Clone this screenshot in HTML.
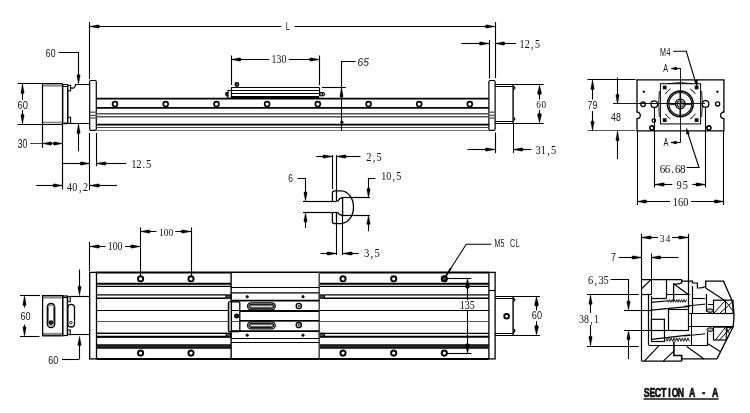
<!DOCTYPE html>
<html><head><meta charset="utf-8"><title>drawing</title>
<style>html,body{margin:0;padding:0;background:#fff;}svg{display:block;} text{} .t{opacity:0.999}</style></head>
<body><svg width="750" height="413" viewBox="0 0 750 413">
<rect x="0" y="0" width="750" height="413" fill="#fff"/>
<g stroke-linecap="butt" style="will-change:transform">
<line x1="89.50" y1="22.00" x2="89.50" y2="79.00" stroke="#000" stroke-width="1.1"/>
<line x1="495.50" y1="22.00" x2="495.50" y2="78.00" stroke="#000" stroke-width="1.1"/>
<line x1="89.70" y1="26.50" x2="281.30" y2="26.50" stroke="#000" stroke-width="1.0"/>
<line x1="294.50" y1="26.50" x2="495.20" y2="26.50" stroke="#000" stroke-width="1.0"/>
<path d="M89.70,26.50 L98.05,24.85 A1.65,1.65 0 0 1 98.05,28.15 Z" fill="#000" stroke="#000" stroke-width="0.3"/>
<path d="M495.20,26.50 L486.85,28.15 A1.65,1.65 0 0 1 486.85,24.85 Z" fill="#000" stroke="#000" stroke-width="0.3"/>
<text transform="translate(285.80,29.89) scale(0.7131,1)" font-family="&quot;Liberation Sans&quot;, sans-serif" font-weight="normal" font-size="10.59" fill="#111">L</text>
<text transform="translate(45.80,57.39) scale(0.7720,1)" font-family="&quot;Liberation Sans&quot;, sans-serif" font-weight="normal" font-size="11.30" fill="#111">60</text>
<path d="M58.50,52.50 L78.50,52.50 L78.50,80.50" stroke="#000" stroke-width="1.1" fill="none" stroke-linejoin="miter"/>
<path d="M78.50,84.20 L76.85,75.85 A1.65,1.65 0 0 1 80.15,75.85 Z" fill="#000" stroke="#000" stroke-width="0.3"/>
<rect x="42.60" y="84.20" width="20.00" height="2.40" fill="#8a8a8a"/>
<rect x="42.60" y="121.60" width="20.00" height="1.80" fill="#8a8a8a"/>
<line x1="17.50" y1="83.50" x2="62.60" y2="83.50" stroke="#000" stroke-width="1.2"/>
<line x1="17.50" y1="124.50" x2="62.60" y2="124.50" stroke="#000" stroke-width="1.2"/>
<line x1="42.50" y1="83.70" x2="42.50" y2="148.00" stroke="#000" stroke-width="1.2"/>
<line x1="62.50" y1="83.70" x2="62.50" y2="189.50" stroke="#000" stroke-width="1.2"/>
<rect x="62.70" y="84.50" width="5.00" height="39.10" rx="0.8" stroke="#000" stroke-width="1.2" fill="none"/>
<line x1="62.70" y1="86.50" x2="67.70" y2="86.50" stroke="#000" stroke-width="1.0"/>
<line x1="62.70" y1="122.50" x2="67.70" y2="122.50" stroke="#888" stroke-width="1.0"/>
<rect x="67.70" y="85.30" width="2.90" height="5.50" rx="0" stroke="#000" stroke-width="1.1" fill="none"/>
<rect x="67.70" y="117.30" width="2.90" height="6.10" rx="0" stroke="#000" stroke-width="1.1" fill="none"/>
<path d="M67.7,90.8 L67.7,117.3 M70.6,88.2 L73.2,88.2 Q75.0,88.0 75.6,84.5 L89.7,84.5 M70.6,123.5 L89.7,123.5" stroke="#000" stroke-width="1.2" fill="none"/>
<line x1="22.50" y1="84.50" x2="22.50" y2="123.20" stroke="#000" stroke-width="1.1"/>
<path d="M22.50,83.90 L24.15,92.25 A1.65,1.65 0 0 1 20.85,92.25 Z" fill="#000" stroke="#000" stroke-width="0.3"/>
<path d="M22.50,123.90 L20.85,115.55 A1.65,1.65 0 0 1 24.15,115.55 Z" fill="#000" stroke="#000" stroke-width="0.3"/>
<rect x="18.00" y="100.00" width="9.50" height="10.00" fill="#fff"/>
<text transform="translate(17.60,108.89) scale(0.8277,1)" font-family="&quot;Liberation Sans&quot;, sans-serif" font-weight="normal" font-size="11.30" fill="#111">60</text>
<rect x="89.70" y="80.50" width="6.60" height="49.90" rx="1.2" stroke="#000" stroke-width="1.2" fill="none"/>
<line x1="89.70" y1="112.20" x2="96.30" y2="112.20" stroke="#555" stroke-width="1.3"/>
<line x1="89.70" y1="115.40" x2="96.30" y2="115.40" stroke="#555" stroke-width="1.3"/>
<line x1="89.70" y1="118.00" x2="96.30" y2="118.00" stroke="#555" stroke-width="1.3"/>
<rect x="488.90" y="80.50" width="6.20" height="49.90" rx="1.2" stroke="#000" stroke-width="1.2" fill="none"/>
<line x1="488.90" y1="112.20" x2="495.10" y2="112.20" stroke="#555" stroke-width="1.3"/>
<line x1="488.90" y1="115.40" x2="495.10" y2="115.40" stroke="#555" stroke-width="1.3"/>
<line x1="488.90" y1="118.00" x2="495.10" y2="118.00" stroke="#555" stroke-width="1.3"/>
<line x1="96.30" y1="98.70" x2="488.90" y2="98.70" stroke="#000" stroke-width="1.7"/>
<line x1="96.30" y1="107.90" x2="488.90" y2="107.90" stroke="#000" stroke-width="1.9"/>
<line x1="96.30" y1="113.70" x2="488.90" y2="113.70" stroke="#555" stroke-width="1.5"/>
<line x1="96.30" y1="116.85" x2="488.90" y2="116.85" stroke="#555" stroke-width="1.5"/>
<line x1="96.30" y1="124.60" x2="488.90" y2="124.60" stroke="#000" stroke-width="1.8"/>
<line x1="96.30" y1="127.50" x2="488.90" y2="127.50" stroke="#444" stroke-width="1.2"/>
<line x1="96.30" y1="130.50" x2="488.90" y2="130.50" stroke="#777" stroke-width="1.2"/>
<circle cx="115.00" cy="104.10" r="2.50" stroke="#000" stroke-width="1.6" fill="none"/>
<circle cx="165.70" cy="104.10" r="2.50" stroke="#000" stroke-width="1.6" fill="none"/>
<circle cx="216.50" cy="104.10" r="2.50" stroke="#000" stroke-width="1.6" fill="none"/>
<circle cx="267.10" cy="104.10" r="2.50" stroke="#000" stroke-width="1.6" fill="none"/>
<circle cx="317.80" cy="104.10" r="2.50" stroke="#000" stroke-width="1.6" fill="none"/>
<circle cx="368.60" cy="104.10" r="2.50" stroke="#000" stroke-width="1.6" fill="none"/>
<circle cx="419.20" cy="104.10" r="2.50" stroke="#000" stroke-width="1.6" fill="none"/>
<circle cx="469.80" cy="104.10" r="2.50" stroke="#000" stroke-width="1.6" fill="none"/>
<rect x="231.00" y="96.00" width="88.20" height="2.40" fill="#000"/>
<line x1="231.00" y1="87.50" x2="319.20" y2="87.50" stroke="#000" stroke-width="1.2"/>
<line x1="227.90" y1="90.50" x2="319.20" y2="90.50" stroke="#000" stroke-width="1.2"/>
<line x1="231.00" y1="93.50" x2="319.20" y2="93.50" stroke="#000" stroke-width="1.1"/>
<line x1="231.50" y1="87.45" x2="231.50" y2="96.00" stroke="#000" stroke-width="1.2"/>
<line x1="319.50" y1="87.45" x2="319.50" y2="96.00" stroke="#000" stroke-width="1.2"/>
<rect x="227.90" y="90.40" width="3.50" height="7.80" rx="0" stroke="#000" stroke-width="1.0" fill="none"/>
<path d="M227.9,92.5 L226.2,92.5 Q224.8,94.3 226.2,96.0 L227.9,96.0 Z" stroke="#000" stroke-width="1.1" fill="#555"/>
<path d="M319.8,92.6 L324.0,92.6 Q326.0,94.2 324.0,95.8 L319.8,95.8 Z" stroke="#000" stroke-width="1.0" fill="#999"/>
<line x1="322.50" y1="92.60" x2="322.50" y2="95.80" stroke="#000" stroke-width="0.8"/>
<circle cx="236.90" cy="84.50" r="1.80" stroke="#000" stroke-width="1.3" fill="#555"/>
<line x1="231.50" y1="55.50" x2="231.50" y2="85.00" stroke="#000" stroke-width="1.1"/>
<line x1="319.50" y1="55.50" x2="319.50" y2="85.00" stroke="#000" stroke-width="1.1"/>
<line x1="231.30" y1="59.50" x2="269.30" y2="59.50" stroke="#000" stroke-width="1.0"/>
<line x1="288.80" y1="59.50" x2="319.40" y2="59.50" stroke="#000" stroke-width="1.0"/>
<path d="M231.30,59.50 L239.65,57.85 A1.65,1.65 0 0 1 239.65,61.15 Z" fill="#000" stroke="#000" stroke-width="0.3"/>
<path d="M319.40,59.50 L311.05,61.15 A1.65,1.65 0 0 1 311.05,57.85 Z" fill="#000" stroke="#000" stroke-width="0.3"/>
<text transform="translate(271.60,62.98) scale(0.8373,1)" font-family="&quot;Liberation Serif&quot;, serif" font-weight="normal" font-size="11.70" fill="#111">130</text>
<line x1="322.00" y1="87.50" x2="345.80" y2="87.50" stroke="#000" stroke-width="1.1"/>
<path d="M355.50,61.50 L341.50,61.50 L341.50,130.50" stroke="#000" stroke-width="1.1" fill="none" stroke-linejoin="miter"/>
<circle cx="341.90" cy="122.20" r="1.30" stroke="#000" stroke-width="0.6" fill="#000"/>
<path d="M341.50,87.60 L343.15,95.95 A1.65,1.65 0 0 1 339.85,95.95 Z" fill="#000" stroke="#000" stroke-width="0.3"/>
<text transform="translate(357.50,66.18) scale(0.8798,1)" font-family="&quot;Liberation Sans&quot;, sans-serif" font-weight="normal" font-size="11.72" fill="#111" font-style="italic">65</text>
<line x1="489.50" y1="40.00" x2="489.50" y2="78.50" stroke="#000" stroke-width="1.1"/>
<line x1="461.30" y1="43.50" x2="489.00" y2="43.50" stroke="#000" stroke-width="1.1"/>
<path d="M489.00,43.50 L480.65,45.15 A1.65,1.65 0 0 1 480.65,41.85 Z" fill="#000" stroke="#000" stroke-width="0.3"/>
<line x1="495.20" y1="43.50" x2="516.00" y2="43.50" stroke="#000" stroke-width="1.1"/>
<path d="M495.20,43.50 L503.55,41.85 A1.65,1.65 0 0 1 503.55,45.15 Z" fill="#000" stroke="#000" stroke-width="0.3"/>
<g font-family="&quot;Liberation Serif&quot;, serif" font-weight="normal" font-size="11.85" fill="#111"><text transform="translate(519.50,47.88) scale(0.850,1)">1</text><text transform="translate(524.65,47.88) scale(0.850,1)">2</text><text transform="translate(531.07,47.88) scale(0.850,1)">,</text><text transform="translate(534.96,47.88) scale(0.850,1)">5</text></g>
<line x1="495.10" y1="84.50" x2="543.70" y2="84.50" stroke="#000" stroke-width="1.1"/>
<line x1="495.10" y1="86.50" x2="512.80" y2="86.50" stroke="#000" stroke-width="1.0"/>
<line x1="495.10" y1="121.50" x2="512.80" y2="121.50" stroke="#000" stroke-width="1.0"/>
<line x1="495.10" y1="123.50" x2="543.70" y2="123.50" stroke="#000" stroke-width="1.1"/>
<line x1="513.10" y1="84.50" x2="513.10" y2="123.20" stroke="#000" stroke-width="1.4"/>
<path d="M513.6,86.6 Q516.2,88.0 513.6,89.6" stroke="#000" stroke-width="1.2" fill="none"/>
<path d="M513.6,117.5 Q516.2,119.0 513.6,120.6" stroke="#000" stroke-width="1.2" fill="none"/>
<line x1="539.50" y1="86.00" x2="539.50" y2="122.00" stroke="#000" stroke-width="1.0"/>
<path d="M539.50,85.00 L541.50,93.00 A2.00,2.00 0 0 1 537.50,93.00 Z" fill="#000" stroke="#000" stroke-width="0.3"/>
<path d="M539.50,123.00 L537.50,115.00 A2.00,2.00 0 0 1 541.50,115.00 Z" fill="#000" stroke="#000" stroke-width="0.3"/>
<rect x="535.50" y="99.50" width="11.00" height="10.50" fill="#fff"/>
<g font-family="&quot;Liberation Serif&quot;, serif" font-weight="normal" font-size="10.81" fill="#111"><text transform="translate(536.20,108.19) scale(0.850,1)">6</text><text transform="translate(541.40,108.19) scale(0.850,1)">0</text></g>
<text transform="translate(17.70,148.38) scale(0.7352,1)" font-family="&quot;Liberation Sans&quot;, sans-serif" font-weight="normal" font-size="11.86" fill="#111">30</text>
<line x1="30.10" y1="143.50" x2="62.60" y2="143.50" stroke="#444" stroke-width="1.1"/>
<path d="M42.60,143.50 L50.45,141.85 A1.65,1.65 0 0 1 50.45,145.15 Z" fill="#000" stroke="#000" stroke-width="0.3"/>
<path d="M62.60,143.50 L54.75,145.15 A1.65,1.65 0 0 1 54.75,141.85 Z" fill="#000" stroke="#000" stroke-width="0.3"/>
<line x1="78.50" y1="124.50" x2="78.50" y2="151.30" stroke="#000" stroke-width="1.1"/>
<path d="M78.50,124.00 L80.15,132.35 A1.65,1.65 0 0 1 76.85,132.35 Z" fill="#000" stroke="#000" stroke-width="0.3"/>
<line x1="89.50" y1="133.00" x2="89.50" y2="190.00" stroke="#000" stroke-width="1.1"/>
<line x1="96.50" y1="133.00" x2="96.50" y2="166.30" stroke="#000" stroke-width="1.1"/>
<line x1="62.70" y1="163.50" x2="89.80" y2="163.50" stroke="#000" stroke-width="1.1"/>
<path d="M89.80,163.50 L81.45,165.15 A1.65,1.65 0 0 1 81.45,161.85 Z" fill="#000" stroke="#000" stroke-width="0.3"/>
<line x1="96.30" y1="163.50" x2="126.30" y2="163.50" stroke="#000" stroke-width="1.1"/>
<path d="M96.30,163.50 L104.65,161.85 A1.65,1.65 0 0 1 104.65,165.15 Z" fill="#000" stroke="#000" stroke-width="0.3"/>
<g font-family="&quot;Liberation Serif&quot;, serif" font-weight="normal" font-size="12.59" fill="#111"><text transform="translate(131.30,167.87) scale(0.850,1)">1</text><text transform="translate(136.18,167.87) scale(0.850,1)">2</text><text transform="translate(142.40,167.87) scale(0.850,1)">.</text><text transform="translate(145.95,167.87) scale(0.850,1)">5</text></g>
<line x1="36.30" y1="185.50" x2="62.70" y2="185.50" stroke="#000" stroke-width="1.1"/>
<path d="M62.70,185.50 L54.35,187.15 A1.65,1.65 0 0 1 54.35,183.85 Z" fill="#000" stroke="#000" stroke-width="0.3"/>
<line x1="89.80" y1="185.50" x2="117.00" y2="185.50" stroke="#000" stroke-width="1.1"/>
<path d="M89.80,185.50 L98.15,183.85 A1.65,1.65 0 0 1 98.15,187.15 Z" fill="#000" stroke="#000" stroke-width="0.3"/>
<g font-family="&quot;Liberation Serif&quot;, serif" font-weight="normal" font-size="11.85" fill="#111"><text transform="translate(67.00,191.18) scale(0.850,1)">4</text><text transform="translate(72.32,191.18) scale(0.850,1)">0</text><text transform="translate(78.90,191.18) scale(0.850,1)">,</text><text transform="translate(82.96,191.18) scale(0.850,1)">2</text></g>
<line x1="495.50" y1="132.50" x2="495.50" y2="153.00" stroke="#000" stroke-width="1.1"/>
<line x1="513.50" y1="123.00" x2="513.50" y2="153.00" stroke="#000" stroke-width="1.0"/>
<line x1="467.50" y1="149.50" x2="495.00" y2="149.50" stroke="#000" stroke-width="1.1"/>
<path d="M495.00,149.50 L486.65,151.15 A1.65,1.65 0 0 1 486.65,147.85 Z" fill="#000" stroke="#000" stroke-width="0.3"/>
<line x1="513.20" y1="149.50" x2="531.30" y2="149.50" stroke="#000" stroke-width="1.1"/>
<path d="M513.20,149.50 L521.55,147.85 A1.65,1.65 0 0 1 521.55,151.15 Z" fill="#000" stroke="#000" stroke-width="0.3"/>
<g font-family="&quot;Liberation Serif&quot;, serif" font-weight="normal" font-size="12.30" fill="#111"><text transform="translate(535.50,153.68) scale(0.850,1)">3</text><text transform="translate(540.69,153.68) scale(0.850,1)">1</text><text transform="translate(547.19,153.68) scale(0.850,1)">,</text><text transform="translate(551.07,153.68) scale(0.850,1)">5</text></g>
<line x1="332.50" y1="155.00" x2="332.50" y2="189.00" stroke="#000" stroke-width="1.1"/>
<line x1="336.50" y1="155.00" x2="336.50" y2="190.50" stroke="#000" stroke-width="1.1"/>
<line x1="316.30" y1="156.50" x2="332.50" y2="156.50" stroke="#000" stroke-width="1.1"/>
<path d="M332.50,156.50 L324.15,158.15 A1.65,1.65 0 0 1 324.15,154.85 Z" fill="#000" stroke="#000" stroke-width="0.3"/>
<line x1="336.40" y1="156.50" x2="360.50" y2="156.50" stroke="#000" stroke-width="1.1"/>
<path d="M336.40,156.50 L344.75,154.85 A1.65,1.65 0 0 1 344.75,158.15 Z" fill="#000" stroke="#000" stroke-width="0.3"/>
<g font-family="&quot;Liberation Serif&quot;, serif" font-weight="normal" font-size="12.30" fill="#111"><text transform="translate(366.30,161.18) scale(0.850,1)">2</text><text transform="translate(372.74,161.18) scale(0.850,1)">,</text><text transform="translate(376.57,161.18) scale(0.850,1)">5</text></g>
<text transform="translate(288.30,181.89) scale(0.7773,1)" font-family="&quot;Liberation Sans&quot;, sans-serif" font-weight="normal" font-size="10.88" fill="#111">6</text>
<path d="M297.50,178.50 L305.50,178.50 L305.50,195.50" stroke="#000" stroke-width="1.1" fill="none" stroke-linejoin="miter"/>
<path d="M305.50,201.40 L303.85,193.05 A1.65,1.65 0 0 1 307.15,193.05 Z" fill="#000" stroke="#000" stroke-width="0.3"/>
<line x1="305.50" y1="218.00" x2="305.50" y2="228.00" stroke="#000" stroke-width="1.1"/>
<path d="M305.50,212.50 L307.15,220.85 A1.65,1.65 0 0 1 303.85,220.85 Z" fill="#000" stroke="#000" stroke-width="0.3"/>
<line x1="303.00" y1="201.50" x2="332.40" y2="201.50" stroke="#000" stroke-width="1.2"/>
<line x1="303.00" y1="212.50" x2="332.40" y2="212.50" stroke="#000" stroke-width="1.2"/>
<g font-family="&quot;Liberation Serif&quot;, serif" font-weight="normal" font-size="11.85" fill="#111"><text transform="translate(381.30,180.38) scale(0.850,1)">1</text><text transform="translate(386.29,180.38) scale(0.850,1)">0</text><text transform="translate(392.53,180.38) scale(0.850,1)">,</text><text transform="translate(396.26,180.38) scale(0.850,1)">5</text></g>
<path d="M375.50,178.50 L368.50,178.50 L368.50,192.50" stroke="#000" stroke-width="1.1" fill="none" stroke-linejoin="miter"/>
<path d="M368.50,198.00 L366.85,189.65 A1.65,1.65 0 0 1 370.15,189.65 Z" fill="#000" stroke="#000" stroke-width="0.3"/>
<line x1="368.50" y1="221.00" x2="368.50" y2="231.30" stroke="#000" stroke-width="1.1"/>
<path d="M368.50,215.00 L370.15,223.35 A1.65,1.65 0 0 1 366.85,223.35 Z" fill="#000" stroke="#000" stroke-width="0.3"/>
<line x1="341.00" y1="197.50" x2="370.00" y2="197.50" stroke="#000" stroke-width="1.2"/>
<line x1="341.00" y1="215.50" x2="370.00" y2="215.50" stroke="#000" stroke-width="1.2"/>
<path d="M332.4,201.6 L332.4,193.0 Q332.4,190.8 334.6,190.8 L341.0,190.8 C348.0,191.0 353.5,198.0 353.5,207.2 C353.5,216.0 348.0,223.6 341.0,223.6 L334.5,223.6 Q332.4,223.6 332.4,221.5 L332.4,212.4" stroke="#000" stroke-width="1.3" fill="none"/>
<path d="M336.5,190.8 L336.5,200.0 Q336.5,201.6 338.0,201.0 Q340.0,197.4 342.6,198.0 L342.6,215.0 Q340.0,215.8 338.0,212.8 Q336.5,212.0 336.5,213.5 L336.5,223.6" stroke="#000" stroke-width="1.3" fill="none"/>
<line x1="336.50" y1="223.60" x2="336.50" y2="255.00" stroke="#000" stroke-width="1.1"/>
<line x1="342.50" y1="215.50" x2="342.50" y2="255.00" stroke="#000" stroke-width="1.1"/>
<line x1="332.40" y1="201.50" x2="336.50" y2="201.50" stroke="#000" stroke-width="1.2"/>
<line x1="332.40" y1="212.50" x2="336.50" y2="212.50" stroke="#000" stroke-width="1.2"/>
<line x1="320.50" y1="253.50" x2="336.50" y2="253.50" stroke="#000" stroke-width="1.1"/>
<path d="M336.50,253.50 L328.15,255.15 A1.65,1.65 0 0 1 328.15,251.85 Z" fill="#000" stroke="#000" stroke-width="0.3"/>
<line x1="342.60" y1="253.50" x2="358.80" y2="253.50" stroke="#000" stroke-width="1.1"/>
<path d="M342.60,253.50 L350.95,251.85 A1.65,1.65 0 0 1 350.95,255.15 Z" fill="#000" stroke="#000" stroke-width="0.3"/>
<g font-family="&quot;Liberation Serif&quot;, serif" font-weight="normal" font-size="12.59" fill="#111"><text transform="translate(364.00,257.37) scale(0.850,1)">3</text><text transform="translate(370.56,257.37) scale(0.850,1)">,</text><text transform="translate(374.45,257.37) scale(0.850,1)">5</text></g>
<line x1="89.50" y1="242.00" x2="89.50" y2="271.00" stroke="#000" stroke-width="1.1"/>
<line x1="89.70" y1="246.50" x2="105.50" y2="246.50" stroke="#000" stroke-width="1.0"/>
<path d="M89.70,246.50 L98.05,244.85 A1.65,1.65 0 0 1 98.05,248.15 Z" fill="#000" stroke="#000" stroke-width="0.3"/>
<line x1="125.00" y1="246.50" x2="140.40" y2="246.50" stroke="#000" stroke-width="1.0"/>
<path d="M140.40,246.50 L132.05,248.15 A1.65,1.65 0 0 1 132.05,244.85 Z" fill="#000" stroke="#000" stroke-width="0.3"/>
<text transform="translate(107.80,249.68) scale(0.8481,1)" font-family="&quot;Liberation Serif&quot;, serif" font-weight="normal" font-size="11.56" fill="#111">100</text>
<line x1="140.50" y1="227.50" x2="140.50" y2="276.00" stroke="#000" stroke-width="1.1"/>
<line x1="191.50" y1="227.50" x2="191.50" y2="276.00" stroke="#000" stroke-width="1.1"/>
<line x1="140.40" y1="231.50" x2="156.50" y2="231.50" stroke="#000" stroke-width="1.0"/>
<path d="M140.40,231.50 L148.75,229.85 A1.65,1.65 0 0 1 148.75,233.15 Z" fill="#000" stroke="#000" stroke-width="0.3"/>
<line x1="175.30" y1="231.50" x2="191.00" y2="231.50" stroke="#000" stroke-width="1.0"/>
<path d="M191.00,231.50 L182.65,233.15 A1.65,1.65 0 0 1 182.65,229.85 Z" fill="#000" stroke="#000" stroke-width="0.3"/>
<text transform="translate(159.10,235.79) scale(0.8299,1)" font-family="&quot;Liberation Serif&quot;, serif" font-weight="normal" font-size="11.41" fill="#111">100</text>
<rect x="89.70" y="272.40" width="6.80" height="86.50" rx="0" stroke="#000" stroke-width="1.3" fill="none"/>
<rect x="488.90" y="272.40" width="6.20" height="86.50" rx="0" stroke="#000" stroke-width="1.3" fill="none"/>
<line x1="488.90" y1="290.50" x2="495.10" y2="290.50" stroke="#000" stroke-width="1.2"/>
<line x1="96.50" y1="272.50" x2="231.10" y2="272.50" stroke="#000" stroke-width="2.0"/>
<line x1="96.50" y1="283.70" x2="231.10" y2="283.70" stroke="#000" stroke-width="2.0"/>
<line x1="96.50" y1="286.40" x2="231.10" y2="286.40" stroke="#000" stroke-width="1.4"/>
<line x1="96.50" y1="333.30" x2="231.10" y2="333.30" stroke="#000" stroke-width="1.3"/>
<line x1="96.50" y1="336.80" x2="231.10" y2="336.80" stroke="#000" stroke-width="2.0"/>
<line x1="96.50" y1="344.90" x2="231.10" y2="344.90" stroke="#000" stroke-width="1.4"/>
<line x1="96.50" y1="347.80" x2="231.10" y2="347.80" stroke="#000" stroke-width="2.0"/>
<rect x="96.50" y="345.00" width="134.60" height="2.80" fill="#222"/>
<line x1="96.50" y1="359.00" x2="231.10" y2="359.00" stroke="#000" stroke-width="2.0"/>
<line x1="319.20" y1="272.50" x2="488.90" y2="272.50" stroke="#000" stroke-width="2.0"/>
<line x1="319.20" y1="283.70" x2="488.90" y2="283.70" stroke="#000" stroke-width="2.0"/>
<line x1="319.20" y1="286.40" x2="488.90" y2="286.40" stroke="#000" stroke-width="1.4"/>
<line x1="319.20" y1="333.30" x2="488.90" y2="333.30" stroke="#000" stroke-width="1.3"/>
<line x1="319.20" y1="336.80" x2="488.90" y2="336.80" stroke="#000" stroke-width="2.0"/>
<line x1="319.20" y1="344.90" x2="488.90" y2="344.90" stroke="#000" stroke-width="1.4"/>
<line x1="319.20" y1="347.80" x2="488.90" y2="347.80" stroke="#000" stroke-width="2.0"/>
<rect x="319.20" y="345.00" width="169.70" height="2.80" fill="#222"/>
<line x1="319.20" y1="359.00" x2="488.90" y2="359.00" stroke="#000" stroke-width="2.0"/>
<line x1="96.50" y1="310.50" x2="488.90" y2="310.50" stroke="#000" stroke-width="1.1"/>
<line x1="96.50" y1="321.50" x2="488.90" y2="321.50" stroke="#555" stroke-width="1.1"/>
<line x1="96.50" y1="294.90" x2="226.00" y2="294.90" stroke="#000" stroke-width="1.4"/>
<line x1="96.50" y1="298.30" x2="226.00" y2="298.30" stroke="#000" stroke-width="1.4"/>
<line x1="325.00" y1="294.90" x2="488.90" y2="294.90" stroke="#000" stroke-width="1.4"/>
<line x1="325.00" y1="298.30" x2="488.90" y2="298.30" stroke="#000" stroke-width="1.4"/>
<line x1="96.50" y1="333.30" x2="226.00" y2="333.30" stroke="#000" stroke-width="1.3"/>
<line x1="96.50" y1="336.80" x2="226.00" y2="336.80" stroke="#000" stroke-width="1.3"/>
<rect x="226.00" y="294.90" width="5.10" height="3.40" rx="0" stroke="#000" stroke-width="1.0" fill="#444"/>
<rect x="319.20" y="294.90" width="5.30" height="3.40" rx="0" stroke="#000" stroke-width="1.0" fill="#444"/>
<rect x="226.00" y="333.30" width="5.10" height="3.50" rx="0" stroke="#000" stroke-width="1.0" fill="#444"/>
<rect x="319.20" y="333.30" width="5.30" height="3.50" rx="0" stroke="#000" stroke-width="1.0" fill="#444"/>
<circle cx="140.60" cy="278.80" r="2.60" stroke="#000" stroke-width="1.9" fill="none"/>
<circle cx="140.60" cy="353.10" r="2.60" stroke="#000" stroke-width="1.9" fill="none"/>
<circle cx="191.00" cy="278.80" r="2.60" stroke="#000" stroke-width="1.9" fill="none"/>
<circle cx="191.00" cy="353.10" r="2.60" stroke="#000" stroke-width="1.9" fill="none"/>
<circle cx="343.00" cy="278.80" r="2.60" stroke="#000" stroke-width="1.9" fill="none"/>
<circle cx="343.00" cy="353.10" r="2.60" stroke="#000" stroke-width="1.9" fill="none"/>
<circle cx="393.70" cy="278.80" r="2.60" stroke="#000" stroke-width="1.9" fill="none"/>
<circle cx="393.70" cy="353.10" r="2.60" stroke="#000" stroke-width="1.9" fill="none"/>
<circle cx="444.30" cy="278.80" r="2.60" stroke="#000" stroke-width="1.9" fill="none"/>
<circle cx="444.30" cy="353.10" r="2.60" stroke="#000" stroke-width="1.9" fill="none"/>
<line x1="231.10" y1="272.20" x2="319.20" y2="272.20" stroke="#000" stroke-width="1.4"/>
<line x1="231.10" y1="272.20" x2="231.10" y2="359.00" stroke="#000" stroke-width="1.4"/>
<line x1="319.20" y1="272.20" x2="319.20" y2="359.00" stroke="#444" stroke-width="1.5"/>
<line x1="231.10" y1="287.50" x2="319.20" y2="287.50" stroke="#000" stroke-width="1.1"/>
<line x1="231.10" y1="292.80" x2="319.20" y2="292.80" stroke="#000" stroke-width="1.3"/>
<line x1="231.10" y1="300.60" x2="319.20" y2="300.60" stroke="#000" stroke-width="1.8"/>
<line x1="239.80" y1="311.50" x2="319.20" y2="311.50" stroke="#000" stroke-width="1.2"/>
<line x1="239.80" y1="320.50" x2="319.20" y2="320.50" stroke="#000" stroke-width="1.2"/>
<line x1="231.10" y1="331.20" x2="319.20" y2="331.20" stroke="#000" stroke-width="1.8"/>
<line x1="231.10" y1="338.50" x2="319.20" y2="338.50" stroke="#000" stroke-width="1.2"/>
<line x1="231.10" y1="342.50" x2="319.20" y2="342.50" stroke="#000" stroke-width="1.2"/>
<line x1="231.10" y1="359.00" x2="319.20" y2="359.00" stroke="#000" stroke-width="1.8"/>
<circle cx="247.20" cy="296.70" r="1.30" stroke="#000" stroke-width="0.5" fill="#000"/>
<circle cx="303.00" cy="296.70" r="1.30" stroke="#000" stroke-width="0.5" fill="#000"/>
<circle cx="247.20" cy="335.20" r="1.30" stroke="#000" stroke-width="0.5" fill="#000"/>
<circle cx="303.00" cy="335.20" r="1.30" stroke="#000" stroke-width="0.5" fill="#000"/>
<rect x="247.60" y="302.80" width="27.60" height="7.00" rx="3.5" stroke="#000" stroke-width="1.3" fill="none"/>
<rect x="249.00" y="304.30" width="24.80" height="4.00" rx="2" stroke="#000" stroke-width="1.0" fill="#777"/>
<line x1="251.00" y1="306.50" x2="272.00" y2="306.50" stroke="#fff" stroke-width="0.7"/>
<circle cx="298.80" cy="306.00" r="2.60" stroke="#000" stroke-width="1.4" fill="none"/>
<circle cx="298.80" cy="306.00" r="0.90" stroke="#000" stroke-width="0.6" fill="#888"/>
<rect x="247.60" y="321.90" width="27.60" height="7.00" rx="3.5" stroke="#000" stroke-width="1.3" fill="none"/>
<rect x="249.00" y="323.40" width="24.80" height="4.00" rx="2" stroke="#000" stroke-width="1.0" fill="#777"/>
<line x1="251.00" y1="325.50" x2="272.00" y2="325.50" stroke="#fff" stroke-width="0.7"/>
<circle cx="298.80" cy="325.10" r="2.60" stroke="#000" stroke-width="1.4" fill="none"/>
<circle cx="298.80" cy="325.10" r="0.90" stroke="#000" stroke-width="0.6" fill="#888"/>
<rect x="228.40" y="301.80" width="11.40" height="29.70" rx="1" stroke="#000" stroke-width="1.3" fill="none"/>
<rect x="228.90" y="302.40" width="2.10" height="28.60" fill="#aaa"/>
<line x1="231.50" y1="300.60" x2="231.50" y2="331.50" stroke="#000" stroke-width="1.1"/>
<circle cx="236.60" cy="316.00" r="1.90" stroke="#000" stroke-width="1.2" fill="#222"/>
<line x1="20.00" y1="295.50" x2="40.00" y2="295.50" stroke="#000" stroke-width="1.1"/>
<line x1="20.00" y1="336.50" x2="39.50" y2="336.50" stroke="#000" stroke-width="1.1"/>
<line x1="24.50" y1="297.00" x2="24.50" y2="307.50" stroke="#000" stroke-width="1.1"/>
<line x1="24.50" y1="324.50" x2="24.50" y2="335.00" stroke="#000" stroke-width="1.1"/>
<path d="M24.50,295.80 L26.15,304.15 A1.65,1.65 0 0 1 22.85,304.15 Z" fill="#000" stroke="#000" stroke-width="0.3"/>
<path d="M24.50,336.20 L22.85,327.85 A1.65,1.65 0 0 1 26.15,327.85 Z" fill="#000" stroke="#000" stroke-width="0.3"/>
<text transform="translate(20.50,320.39) scale(0.7959,1)" font-family="&quot;Liberation Sans&quot;, sans-serif" font-weight="normal" font-size="11.30" fill="#111">60</text>
<rect x="42.60" y="296.40" width="20.10" height="2.20" fill="#8a8a8a"/>
<rect x="42.60" y="332.80" width="20.10" height="2.80" fill="#8a8a8a"/>
<rect x="42.60" y="295.60" width="20.10" height="40.20" rx="0" stroke="#000" stroke-width="1.3" fill="none"/>
<rect x="47.30" y="303.50" width="7.40" height="24.10" rx="3.7" stroke="#000" stroke-width="1.3" fill="none"/>
<rect x="48.50" y="305.00" width="5.00" height="21.20" rx="2.5" stroke="#555" stroke-width="0.8" fill="none"/>
<circle cx="51.00" cy="322.60" r="1.70" stroke="#000" stroke-width="1.2" fill="#333"/>
<rect x="62.70" y="296.00" width="4.60" height="39.50" rx="0" stroke="#000" stroke-width="1.2" fill="none"/>
<line x1="62.70" y1="297.50" x2="67.30" y2="297.50" stroke="#000" stroke-width="1.0"/>
<rect x="67.70" y="296.70" width="2.50" height="5.00" rx="0" stroke="#000" stroke-width="1.1" fill="none"/>
<rect x="67.70" y="330.00" width="2.50" height="4.60" rx="0" stroke="#000" stroke-width="1.1" fill="none"/>
<rect x="67.90" y="304.30" width="6.60" height="22.70" rx="3.3" stroke="#000" stroke-width="1.3" fill="none"/>
<circle cx="70.90" cy="322.60" r="1.30" stroke="#000" stroke-width="0.9" fill="none"/>
<line x1="70.20" y1="296.50" x2="89.70" y2="296.50" stroke="#000" stroke-width="1.2"/>
<line x1="70.20" y1="334.50" x2="89.70" y2="334.50" stroke="#000" stroke-width="1.1"/>
<line x1="67.50" y1="301.70" x2="67.50" y2="330.00" stroke="#000" stroke-width="1.0"/>
<line x1="79.50" y1="269.50" x2="79.50" y2="290.00" stroke="#000" stroke-width="1.1"/>
<path d="M79.50,295.80 L77.85,287.45 A1.65,1.65 0 0 1 81.15,287.45 Z" fill="#000" stroke="#000" stroke-width="0.3"/>
<line x1="79.50" y1="342.00" x2="79.50" y2="359.30" stroke="#000" stroke-width="1.1"/>
<path d="M79.50,336.00 L81.15,344.35 A1.65,1.65 0 0 1 77.85,344.35 Z" fill="#000" stroke="#000" stroke-width="0.3"/>
<line x1="62.00" y1="359.50" x2="79.20" y2="359.50" stroke="#000" stroke-width="1.1"/>
<text transform="translate(48.30,364.19) scale(0.7959,1)" font-family="&quot;Liberation Sans&quot;, sans-serif" font-weight="normal" font-size="11.30" fill="#111">60</text>
<line x1="85.00" y1="296.50" x2="89.70" y2="296.50" stroke="#000" stroke-width="1.0"/>
<line x1="85.00" y1="334.50" x2="89.70" y2="334.50" stroke="#000" stroke-width="1.0"/>
<line x1="495.10" y1="296.50" x2="540.00" y2="296.50" stroke="#000" stroke-width="1.1"/>
<line x1="495.10" y1="298.50" x2="512.80" y2="298.50" stroke="#000" stroke-width="1.0"/>
<line x1="495.10" y1="333.50" x2="512.80" y2="333.50" stroke="#000" stroke-width="1.0"/>
<line x1="495.10" y1="335.50" x2="540.00" y2="335.50" stroke="#000" stroke-width="1.1"/>
<line x1="513.10" y1="296.00" x2="513.10" y2="335.40" stroke="#000" stroke-width="1.4"/>
<path d="M513.6,298.2 Q516.2,299.7 513.6,301.3" stroke="#000" stroke-width="1.2" fill="none"/>
<path d="M513.6,329.0 Q516.2,330.7 513.6,332.5" stroke="#000" stroke-width="1.2" fill="none"/>
<ellipse cx="506.6" cy="316.3" rx="2.4" ry="2.3" stroke="#000" stroke-width="1.8" fill="none"/>
<line x1="536.50" y1="297.50" x2="536.50" y2="334.00" stroke="#000" stroke-width="1.0"/>
<path d="M536.50,296.60 L538.50,304.60 A2.00,2.00 0 0 1 534.50,304.60 Z" fill="#000" stroke="#000" stroke-width="0.3"/>
<path d="M536.50,335.10 L534.50,327.10 A2.00,2.00 0 0 1 538.50,327.10 Z" fill="#000" stroke="#000" stroke-width="0.3"/>
<rect x="531.00" y="310.50" width="11.50" height="10.50" fill="#fff"/>
<text transform="translate(531.80,319.39) scale(0.8659,1)" font-family="&quot;Liberation Sans&quot;, sans-serif" font-weight="normal" font-size="10.59" fill="#111">60</text>
<g font-family="&quot;Liberation Sans&quot;, sans-serif" font-weight="normal" font-size="11.30" fill="#111"><text transform="translate(494.40,247.19) scale(0.620,1)">M</text><text transform="translate(500.45,247.19) scale(0.620,1)">5</text><text transform="translate(510.04,247.19) scale(0.620,1)">C</text><text transform="translate(515.70,247.19) scale(0.620,1)">L</text></g>
<path d="M491.30,244.30 L466.30,244.30 L446.50,275.00" stroke="#000" stroke-width="1.1" fill="none" stroke-linejoin="miter"/>
<line x1="451.00" y1="268.00" x2="444.60" y2="278.20" stroke="#000" stroke-width="1.7"/>
<circle cx="444.30" cy="278.80" r="2.40" stroke="#000" stroke-width="1.6" fill="#444"/>
<line x1="447.00" y1="278.50" x2="471.30" y2="278.50" stroke="#000" stroke-width="1.1"/>
<line x1="447.00" y1="353.50" x2="471.30" y2="353.50" stroke="#000" stroke-width="1.1"/>
<line x1="467.50" y1="279.50" x2="467.50" y2="300.50" stroke="#000" stroke-width="1.1"/>
<line x1="467.50" y1="311.00" x2="467.50" y2="352.50" stroke="#000" stroke-width="1.1"/>
<path d="M467.50,278.80 L469.60,286.50 A2.10,2.10 0 0 1 465.40,286.50 Z" fill="#000" stroke="#000" stroke-width="0.3"/>
<path d="M467.50,353.00 L465.40,345.60 A2.10,2.10 0 0 1 469.60,345.60 Z" fill="#000" stroke="#000" stroke-width="0.3"/>
<rect x="460.00" y="300.50" width="16.00" height="9.10" fill="#fff"/>
<text transform="translate(459.70,308.58) scale(0.8712,1)" font-family="&quot;Liberation Serif&quot;, serif" font-weight="normal" font-size="11.56" fill="#111">135</text>
<path d="M637.0,79.9 L723.9,79.9 L723.9,112.0 A3.2,3.2 0 0 0 723.9,118.6 L723.9,130.8 L637.0,130.8 L637.0,118.6 A3.2,3.2 0 0 0 637.0,112.0 Z" stroke="#000" stroke-width="1.3" fill="none"/>
<rect x="660.40" y="83.70" width="40.20" height="40.20" rx="0" stroke="#000" stroke-width="1.0" fill="none"/>
<path d="M668,83.7 Q680,81.6 692,83.7" stroke="#000" stroke-width="1.0" fill="none"/>
<rect x="662.80" y="85.60" width="3.80" height="3.80" fill="#111"/>
<rect x="694.70" y="85.60" width="3.80" height="3.80" fill="#111"/>
<rect x="662.80" y="118.20" width="3.80" height="3.80" fill="#111"/>
<rect x="694.70" y="118.20" width="3.80" height="3.80" fill="#111"/>
<path d="M665.20,94.10 A18.0,18.0 0 0 1 670.50,88.80" stroke="#000" stroke-width="1.0" fill="none"/>
<path d="M690.10,88.80 A18.0,18.0 0 0 1 695.40,94.10" stroke="#000" stroke-width="1.0" fill="none"/>
<path d="M695.40,113.70 A18.0,18.0 0 0 1 690.10,119.00" stroke="#000" stroke-width="1.0" fill="none"/>
<path d="M670.50,119.00 A18.0,18.0 0 0 1 665.20,113.70" stroke="#000" stroke-width="1.0" fill="none"/>
<path d="M659.3,91 Q658.2,104 659.3,117" stroke="#000" stroke-width="0.9" fill="none"/>
<path d="M701.7,91 Q702.8,104 701.7,117" stroke="#000" stroke-width="0.9" fill="none"/>
<circle cx="680.30" cy="103.90" r="12.90" stroke="#000" stroke-width="1.5" fill="none"/>
<circle cx="680.30" cy="103.90" r="11.40" stroke="#000" stroke-width="1.1" fill="none"/>
<circle cx="680.30" cy="103.90" r="4.80" stroke="#000" stroke-width="1.4" fill="none"/>
<circle cx="680.30" cy="103.90" r="3.20" stroke="#000" stroke-width="1.0" fill="none"/>
<path d="M679.0,102.3 L679.0,104.6 Q680.3,106.6 681.6,104.6 L681.6,102.3" stroke="#000" stroke-width="0.8" fill="none"/>
<line x1="669.80" y1="103.90" x2="675.50" y2="103.90" stroke="#000" stroke-width="1.8"/>
<line x1="685.10" y1="103.90" x2="691.00" y2="103.90" stroke="#000" stroke-width="1.8"/>
<line x1="680.30" y1="91.50" x2="680.30" y2="99.10" stroke="#000" stroke-width="1.6"/>
<line x1="680.30" y1="108.70" x2="680.30" y2="116.50" stroke="#000" stroke-width="1.6"/>
<line x1="613.00" y1="103.50" x2="705.00" y2="103.50" stroke="#000" stroke-width="0.9"/>
<line x1="680.50" y1="68.00" x2="680.50" y2="142.80" stroke="#000" stroke-width="0.9"/>
<circle cx="643.10" cy="104.20" r="2.30" stroke="#000" stroke-width="1.3" fill="none"/>
<circle cx="654.30" cy="104.20" r="3.30" stroke="#000" stroke-width="1.3" fill="none"/>
<circle cx="653.80" cy="120.60" r="1.80" stroke="#000" stroke-width="1.2" fill="none"/>
<circle cx="651.90" cy="127.90" r="2.00" stroke="#000" stroke-width="1.6" fill="none"/>
<circle cx="643.80" cy="91.70" r="0.90" stroke="#000" stroke-width="0.6" fill="#000"/>
<circle cx="705.60" cy="103.90" r="3.30" stroke="#000" stroke-width="1.3" fill="none"/>
<circle cx="717.60" cy="103.90" r="2.10" stroke="#000" stroke-width="1.3" fill="none"/>
<circle cx="717.40" cy="91.70" r="0.90" stroke="#000" stroke-width="0.6" fill="#000"/>
<circle cx="708.90" cy="127.90" r="2.00" stroke="#000" stroke-width="1.6" fill="none"/>
<line x1="587.50" y1="79.50" x2="635.50" y2="79.50" stroke="#000" stroke-width="1.1"/>
<line x1="587.50" y1="130.50" x2="635.50" y2="130.50" stroke="#555" stroke-width="1.1"/>
<line x1="592.50" y1="80.50" x2="592.50" y2="130.30" stroke="#000" stroke-width="1.1"/>
<path d="M592.50,80.00 L594.15,88.35 A1.65,1.65 0 0 1 590.85,88.35 Z" fill="#000" stroke="#000" stroke-width="0.3"/>
<path d="M592.50,130.70 L590.85,122.35 A1.65,1.65 0 0 1 594.15,122.35 Z" fill="#000" stroke="#000" stroke-width="0.3"/>
<rect x="586.50" y="99.50" width="12.00" height="11.50" fill="#fff"/>
<text transform="translate(587.60,108.69) scale(0.7898,1)" font-family="&quot;Liberation Sans&quot;, sans-serif" font-weight="normal" font-size="11.16" fill="#111">79</text>
<line x1="617.50" y1="77.50" x2="617.50" y2="104.00" stroke="#000" stroke-width="1.1"/>
<path d="M617.50,104.00 L615.85,95.65 A1.65,1.65 0 0 1 619.15,95.65 Z" fill="#000" stroke="#000" stroke-width="0.3"/>
<line x1="617.50" y1="131.50" x2="617.50" y2="159.00" stroke="#000" stroke-width="1.1"/>
<path d="M617.50,131.20 L619.15,139.55 A1.65,1.65 0 0 1 615.85,139.55 Z" fill="#000" stroke="#000" stroke-width="0.3"/>
<text transform="translate(611.10,121.39) scale(0.7999,1)" font-family="&quot;Liberation Sans&quot;, sans-serif" font-weight="normal" font-size="11.02" fill="#111">48</text>
<g font-family="&quot;Liberation Sans&quot;, sans-serif" font-weight="normal" font-size="10.17" fill="#111"><text transform="translate(663.30,71.90) scale(0.700,1)">A</text></g>
<line x1="671.30" y1="68.50" x2="680.30" y2="68.50" stroke="#000" stroke-width="1.1"/>
<path d="M671.30,68.50 L675.80,67.00 A1.50,1.50 0 0 1 675.80,70.00 Z" fill="#000" stroke="#000" stroke-width="0.3"/>
<g font-family="&quot;Liberation Sans&quot;, sans-serif" font-weight="normal" font-size="10.59" fill="#111"><text transform="translate(663.50,146.39) scale(0.700,1)">A</text></g>
<line x1="671.00" y1="142.50" x2="680.30" y2="142.50" stroke="#000" stroke-width="1.1"/>
<path d="M671.00,142.50 L675.50,141.00 A1.50,1.50 0 0 1 675.50,144.00 Z" fill="#000" stroke="#000" stroke-width="0.3"/>
<g font-family="&quot;Liberation Sans&quot;, sans-serif" font-weight="normal" font-size="10.59" fill="#111"><text transform="translate(660.00,56.19) scale(0.680,1)">M</text><text transform="translate(666.49,56.19) scale(0.680,1)">4</text></g>
<path d="M673.00,51.30 L686.30,51.30 L695.80,83.00" stroke="#000" stroke-width="1.1" fill="none" stroke-linejoin="miter"/>
<path d="M697.3,88.0 L694.2,80.6 L697.6,79.6 Z" fill="#000"/>
<g font-family="&quot;Liberation Serif&quot;, serif" font-weight="normal" font-size="13.04" fill="#111"><text transform="translate(659.80,173.17) scale(0.850,1)">6</text><text transform="translate(664.84,173.17) scale(0.850,1)">6</text><text transform="translate(671.26,173.17) scale(0.850,1)">.</text><text transform="translate(674.92,173.17) scale(0.850,1)">6</text><text transform="translate(679.96,173.17) scale(0.850,1)">8</text></g>
<path d="M686.50,167.50 L699.00,167.50 L687.80,133.00" stroke="#000" stroke-width="1.1" fill="none" stroke-linejoin="miter"/>
<path d="M686.3,127.3 L689.7,133.6 L686.4,134.6 Z" fill="#000"/>
<line x1="654.50" y1="107.50" x2="654.50" y2="187.50" stroke="#000" stroke-width="1.1"/>
<line x1="705.50" y1="107.20" x2="705.50" y2="187.50" stroke="#000" stroke-width="1.1"/>
<line x1="654.70" y1="184.50" x2="672.30" y2="184.50" stroke="#000" stroke-width="1.1"/>
<line x1="692.30" y1="184.50" x2="705.50" y2="184.50" stroke="#000" stroke-width="1.1"/>
<path d="M654.70,184.50 L663.05,182.85 A1.65,1.65 0 0 1 663.05,186.15 Z" fill="#000" stroke="#000" stroke-width="0.3"/>
<path d="M705.50,184.50 L697.15,186.15 A1.65,1.65 0 0 1 697.15,182.85 Z" fill="#000" stroke="#000" stroke-width="0.3"/>
<g font-family="&quot;Liberation Serif&quot;, serif" font-weight="normal" font-size="12.30" fill="#111"><text transform="translate(676.50,188.68) scale(0.850,1)">9</text><text transform="translate(682.77,188.68) scale(0.850,1)">5</text></g>
<line x1="637.50" y1="131.00" x2="637.50" y2="205.00" stroke="#000" stroke-width="1.1"/>
<line x1="723.50" y1="131.00" x2="723.50" y2="205.00" stroke="#000" stroke-width="1.1"/>
<line x1="637.00" y1="201.50" x2="670.00" y2="201.50" stroke="#000" stroke-width="1.1"/>
<line x1="691.00" y1="201.50" x2="723.90" y2="201.50" stroke="#000" stroke-width="1.1"/>
<path d="M637.00,201.50 L645.35,199.85 A1.65,1.65 0 0 1 645.35,203.15 Z" fill="#000" stroke="#000" stroke-width="0.3"/>
<path d="M723.90,201.50 L715.55,203.15 A1.65,1.65 0 0 1 715.55,199.85 Z" fill="#000" stroke="#000" stroke-width="0.3"/>
<g font-family="&quot;Liberation Serif&quot;, serif" font-weight="normal" font-size="12.30" fill="#111"><text transform="translate(672.80,205.68) scale(0.850,1)">1</text><text transform="translate(678.04,205.68) scale(0.850,1)">6</text><text transform="translate(683.27,205.68) scale(0.850,1)">0</text></g>
<line x1="641.50" y1="233.80" x2="641.50" y2="361.10" stroke="#000" stroke-width="1.2"/>
<line x1="688.50" y1="233.80" x2="688.50" y2="331.00" stroke="#000" stroke-width="1.2"/>
<line x1="641.60" y1="237.50" x2="658.00" y2="237.50" stroke="#000" stroke-width="1.1"/>
<line x1="672.00" y1="237.50" x2="688.30" y2="237.50" stroke="#000" stroke-width="1.1"/>
<path d="M641.60,237.50 L649.95,235.85 A1.65,1.65 0 0 1 649.95,239.15 Z" fill="#000" stroke="#000" stroke-width="0.3"/>
<path d="M688.30,237.50 L679.95,239.15 A1.65,1.65 0 0 1 679.95,235.85 Z" fill="#000" stroke="#000" stroke-width="0.3"/>
<g font-family="&quot;Liberation Serif&quot;, serif" font-weight="normal" font-size="11.41" fill="#111"><text transform="translate(659.80,241.89) scale(0.850,1)">3</text><text transform="translate(665.45,241.89) scale(0.850,1)">4</text></g>
<line x1="651.50" y1="253.50" x2="651.50" y2="294.80" stroke="#000" stroke-width="1.0"/>
<line x1="618.80" y1="257.50" x2="641.60" y2="257.50" stroke="#000" stroke-width="1.1"/>
<path d="M641.60,257.50 L633.25,259.15 A1.65,1.65 0 0 1 633.25,255.85 Z" fill="#000" stroke="#000" stroke-width="0.3"/>
<line x1="651.10" y1="257.50" x2="678.50" y2="257.50" stroke="#000" stroke-width="1.1"/>
<path d="M651.10,257.50 L659.45,255.85 A1.65,1.65 0 0 1 659.45,259.15 Z" fill="#000" stroke="#000" stroke-width="0.3"/>
<text transform="translate(610.90,260.99) scale(0.8103,1)" font-family="&quot;Liberation Sans&quot;, sans-serif" font-weight="normal" font-size="10.88" fill="#111">7</text>
<g font-family="&quot;Liberation Serif&quot;, serif" font-weight="normal" font-size="12.30" fill="#111"><text transform="translate(588.00,283.68) scale(0.850,1)">6</text><text transform="translate(594.50,283.68) scale(0.850,1)">,</text><text transform="translate(598.38,283.68) scale(0.850,1)">3</text><text transform="translate(603.57,283.68) scale(0.850,1)">5</text></g>
<path d="M610.50,279.50 L628.50,279.50 L628.50,304.50" stroke="#000" stroke-width="1.1" fill="none" stroke-linejoin="miter"/>
<path d="M628.50,310.50 L626.85,302.15 A1.65,1.65 0 0 1 630.15,302.15 Z" fill="#000" stroke="#000" stroke-width="0.3"/>
<line x1="628.50" y1="336.00" x2="628.50" y2="359.00" stroke="#000" stroke-width="1.1"/>
<path d="M628.50,330.20 L630.15,338.55 A1.65,1.65 0 0 1 626.85,338.55 Z" fill="#000" stroke="#000" stroke-width="0.3"/>
<line x1="624.00" y1="310.50" x2="651.40" y2="310.50" stroke="#000" stroke-width="1.1"/>
<line x1="624.00" y1="330.50" x2="668.80" y2="330.50" stroke="#000" stroke-width="1.1"/>
<line x1="586.80" y1="294.50" x2="638.80" y2="294.50" stroke="#000" stroke-width="1.1"/>
<line x1="586.80" y1="346.50" x2="638.80" y2="346.50" stroke="#000" stroke-width="1.1"/>
<line x1="590.50" y1="295.50" x2="590.50" y2="345.20" stroke="#000" stroke-width="1.1"/>
<path d="M590.50,294.90 L592.15,303.25 A1.65,1.65 0 0 1 588.85,303.25 Z" fill="#000" stroke="#000" stroke-width="0.3"/>
<path d="M590.50,345.80 L588.85,337.45 A1.65,1.65 0 0 1 592.15,337.45 Z" fill="#000" stroke="#000" stroke-width="0.3"/>
<rect x="578.00" y="313.00" width="22.00" height="12.00" fill="#fff"/>
<g font-family="&quot;Liberation Serif&quot;, serif" font-weight="normal" font-size="11.70" fill="#111"><text transform="translate(578.90,322.68) scale(0.850,1)">3</text><text transform="translate(583.91,322.68) scale(0.850,1)">8</text><text transform="translate(590.16,322.68) scale(0.850,1)">,</text><text transform="translate(593.93,322.68) scale(0.850,1)">1</text></g>
<line x1="641.60" y1="279.60" x2="681.70" y2="279.60" stroke="#000" stroke-width="1.3"/>
<line x1="641.60" y1="361.10" x2="681.70" y2="361.10" stroke="#000" stroke-width="1.3"/>
<line x1="641.60" y1="288.80" x2="651.00" y2="279.60" stroke="#000" stroke-width="1.2"/>
<line x1="641.60" y1="294.50" x2="651.10" y2="294.50" stroke="#000" stroke-width="1.2"/>
<line x1="648.50" y1="294.70" x2="648.50" y2="345.40" stroke="#000" stroke-width="1.2"/>
<line x1="651.50" y1="295.70" x2="651.50" y2="341.80" stroke="#000" stroke-width="1.2"/>
<line x1="651.40" y1="341.50" x2="665.00" y2="341.50" stroke="#000" stroke-width="1.2"/>
<line x1="648.80" y1="345.50" x2="707.60" y2="345.50" stroke="#000" stroke-width="1.2"/>
<line x1="666.50" y1="280.20" x2="666.50" y2="298.30" stroke="#000" stroke-width="1.2"/>
<line x1="651.40" y1="298.50" x2="666.60" y2="298.50" stroke="#000" stroke-width="1.2"/>
<line x1="666.60" y1="294.50" x2="690.00" y2="294.50" stroke="#000" stroke-width="1.1"/>
<path d="M681.7,279.6 L681.7,282.9 Q678,284.5 673.6,284.0 L673.6,300.7" stroke="#000" stroke-width="1.3" fill="none"/>
<line x1="673.90" y1="284.00" x2="688.30" y2="294.60" stroke="#000" stroke-width="1.2"/>
<line x1="651.40" y1="302.40" x2="668.30" y2="300.70" stroke="#000" stroke-width="1.1"/>
<line x1="651.40" y1="310.20" x2="690.00" y2="306.30" stroke="#000" stroke-width="1.2"/>
<line x1="668.80" y1="309.50" x2="687.80" y2="309.50" stroke="#000" stroke-width="1.1"/>
<line x1="668.50" y1="308.50" x2="668.50" y2="330.50" stroke="#000" stroke-width="1.2"/>
<line x1="668.80" y1="330.50" x2="688.30" y2="330.50" stroke="#000" stroke-width="1.2"/>
<rect x="651.40" y="319.30" width="13.00" height="11.20" rx="0" stroke="#000" stroke-width="1.2" fill="none"/>
<line x1="664.50" y1="330.50" x2="664.50" y2="341.80" stroke="#000" stroke-width="1.2"/>
<line x1="651.40" y1="339.40" x2="690.00" y2="334.90" stroke="#000" stroke-width="1.2"/>
<path d="M667.5,299.8 L668.5,302.3 L669.7,299.6 L670.9,302.3 L672.1,299.6 L673.3,302.3 L674.5,299.6 L675.7,302.3 L676.9,299.6 L678.1,302.3 L679.3,299.6 L680.5,302.3 L681.7,299.6 L682.9,302.3 L684.1,299.6 L685.3,302.3 L686.5,299.6" stroke="#000" stroke-width="0.9" fill="none"/>
<path d="M666.0,338.5 L667.0,341.3 L668.4,337.9 L669.8,341.3 L671.2,337.9 L672.6,341.3 L674.0,337.9 L675.4,341.3 L676.8,337.9 L678.2,341.3 L679.6,337.9 L681.0,341.3 L682.4,337.9 L683.8,341.3 L685.2,337.9 L686.6,341.3 L688.0,337.9 L689.4,341.3" stroke="#000" stroke-width="0.9" fill="none"/>
<line x1="644.40" y1="361.10" x2="658.80" y2="345.80" stroke="#000" stroke-width="1.2"/>
<line x1="663.30" y1="361.10" x2="673.30" y2="351.60" stroke="#000" stroke-width="1.2"/>
<path d="M673.9,341.6 L673.9,355.5 L681.7,355.5 L681.7,361.1" stroke="#000" stroke-width="1.6" fill="none"/>
<line x1="686.80" y1="346.60" x2="704.00" y2="358.90" stroke="#000" stroke-width="1.2"/>
<line x1="681.70" y1="358.90" x2="716.90" y2="358.90" stroke="#000" stroke-width="1.3"/>
<line x1="707.90" y1="343.80" x2="720.20" y2="351.60" stroke="#000" stroke-width="1.2"/>
<path d="M681.7,281.2 L692.4,281.2 L692.4,283.0 L697.4,283.0 L697.4,287.9 Q702,288.5 705.7,286.2" stroke="#000" stroke-width="1.2" fill="none"/>
<line x1="692.50" y1="286.00" x2="692.50" y2="313.80" stroke="#000" stroke-width="1.2"/>
<line x1="691.50" y1="313.80" x2="691.50" y2="346.00" stroke="#000" stroke-width="1.0"/>
<line x1="688.30" y1="313.50" x2="734.00" y2="313.50" stroke="#000" stroke-width="1.2"/>
<line x1="688.30" y1="326.50" x2="734.00" y2="326.50" stroke="#000" stroke-width="1.2"/>
<line x1="692.40" y1="298.50" x2="705.20" y2="298.50" stroke="#000" stroke-width="1.1"/>
<line x1="684.00" y1="306.30" x2="705.20" y2="304.10" stroke="#000" stroke-width="1.0"/>
<line x1="684.00" y1="336.00" x2="705.20" y2="333.80" stroke="#000" stroke-width="1.0"/>
<line x1="706.50" y1="294.00" x2="706.50" y2="311.90" stroke="#000" stroke-width="1.2"/>
<line x1="707.50" y1="331.60" x2="707.50" y2="346.00" stroke="#000" stroke-width="1.2"/>
<line x1="708.00" y1="304.50" x2="713.50" y2="304.50" stroke="#000" stroke-width="1.0"/>
<ellipse cx="710.0" cy="310.6" rx="3.2" ry="1.8" stroke="#000" stroke-width="1.0" fill="#bbb"/>
<line x1="708.00" y1="304.50" x2="713.50" y2="304.50" stroke="#000" stroke-width="1.0"/>
<ellipse cx="710.0" cy="329.6" rx="3.2" ry="1.8" stroke="#000" stroke-width="1.0" fill="#bbb"/>
<path d="M705.7,288.0 L705.7,281.2 L723.5,281.2 L731.9,300.2 Q735.5,313.5 733.0,327.1 L716.9,358.9" stroke="#000" stroke-width="1.3" fill="none"/>
<line x1="705.70" y1="287.90" x2="725.20" y2="300.70" stroke="#000" stroke-width="1.2"/>
<rect x="713.50" y="300.20" width="19.50" height="13.30" rx="0" stroke="#000" stroke-width="1.2" fill="none"/>
<rect x="713.50" y="327.10" width="12.80" height="12.90" rx="0" stroke="#000" stroke-width="1.2" fill="none"/>
<line x1="726.30" y1="327.50" x2="733.00" y2="327.50" stroke="#000" stroke-width="1.2"/>
<line x1="725.50" y1="300.20" x2="725.50" y2="313.50" stroke="#000" stroke-width="1.1"/>
<line x1="713.50" y1="313.50" x2="725.20" y2="300.70" stroke="#000" stroke-width="1.0"/>
<line x1="719.50" y1="313.50" x2="733.00" y2="301.50" stroke="#000" stroke-width="1.0"/>
<line x1="725.20" y1="300.70" x2="733.00" y2="311.00" stroke="#000" stroke-width="1.0"/>
<line x1="715.50" y1="340.00" x2="725.00" y2="328.00" stroke="#000" stroke-width="1.0"/>
<line x1="719.50" y1="340.00" x2="726.30" y2="332.50" stroke="#000" stroke-width="1.0"/>
<line x1="726.30" y1="333.00" x2="731.50" y2="327.10" stroke="#000" stroke-width="1.0"/>
<line x1="726.30" y1="327.10" x2="728.50" y2="333.00" stroke="#000" stroke-width="1.0"/>
<g font-family="&quot;Liberation Sans&quot;, sans-serif" font-weight="bold" font-size="12.57" fill="#111" stroke="#111" stroke-width="0.7"><text transform="translate(643.70,397.07) scale(0.700,1)">S</text><text transform="translate(649.41,397.07) scale(0.700,1)">E</text><text transform="translate(654.87,397.07) scale(0.700,1)">C</text><text transform="translate(661.07,397.07) scale(0.700,1)">T</text><text transform="translate(668.24,397.07) scale(0.700,1)">I</text><text transform="translate(671.75,397.07) scale(0.700,1)">O</text><text transform="translate(677.70,397.07) scale(0.700,1)">N</text><text transform="translate(689.12,397.07) scale(0.700,1)">A</text><text transform="translate(702.24,397.07) scale(0.700,1)">-</text><text transform="translate(711.95,397.07) scale(0.700,1)">A</text></g>
<line x1="643.50" y1="399.00" x2="718.50" y2="399.00" stroke="#111" stroke-width="1.6"/>
</g></svg></body></html>
